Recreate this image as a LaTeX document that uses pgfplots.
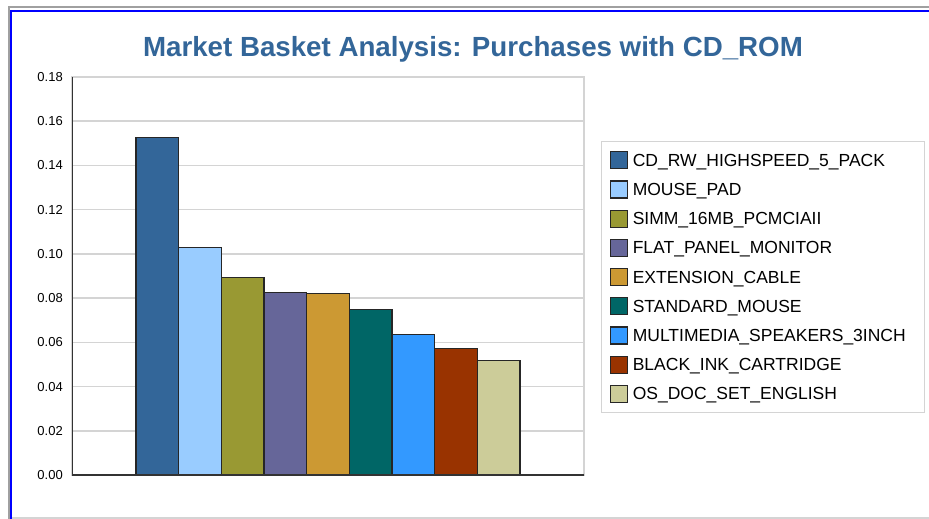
\documentclass[border=0pt]{standalone}
\usepackage{pgfplots}
\pgfplotsset{compat=1.18}
\usepackage{fontspec}
\setmainfont{Liberation Sans}

\definecolor{titleblue}{HTML}{336699}
\definecolor{gridgray}{HTML}{D4D4D4}
\definecolor{framegray}{HTML}{A0A0A0}
\definecolor{cA}{HTML}{336699}
\definecolor{cB}{HTML}{99CCFF}
\definecolor{cC}{HTML}{999933}
\definecolor{cD}{HTML}{666699}
\definecolor{cE}{HTML}{CC9933}
\definecolor{cF}{HTML}{006666}
\definecolor{cG}{HTML}{3399FF}
\definecolor{cH}{HTML}{993300}
\definecolor{cI}{HTML}{CCCC99}

\begin{document}
\begin{tikzpicture}[x=1pt,y=1pt]
\path[use as bounding box, fill=white] (0,0) rectangle (929,-519);

% window frame
\draw[framegray, line width=2pt] (8,-7) -- (929,-7);
\draw[framegray, line width=2pt] (9,-7) -- (9,-519);
\draw[blue, line width=2pt] (10,-11) -- (929,-11);
\draw[blue, line width=2pt] (11,-11) -- (11,-519);
\draw[gridgray, line width=2pt] (12,-517.5) -- (929,-517.5);

% title
\node[anchor=base, text=titleblue, font=\fontsize{27.7}{32}\selectfont\bfseries]
  at (473,-56.5) {Market Basket Analysis: Purchases with CD\_ROM};

\begin{axis}[
  at={(72pt,-475pt)}, anchor=south west,
  width=512pt, height=398pt, scale only axis,
  xmin=-1, xmax=11, ymin=0, ymax=0.18,
  xtick=\empty,
  ytick={0,0.02,0.04,0.06,0.08,0.10,0.12,0.14,0.16,0.18},
  y tick label style={/pgf/number format/fixed,
    /pgf/number format/fixed zerofill,
    /pgf/number format/precision=2,
    /pgf/number format/assume math mode=true,
    font=\fontsize{13}{15}\selectfont, inner sep=0pt, xshift=-9pt},
  major tick length=0pt,
  ymajorgrids,
  major grid style={draw=gridgray, line width=1.5pt},
  axis line style={draw=gridgray, line width=1.5pt},
  ybar, bar width=1, bar shift=0pt,
  every axis plot/.append style={draw=black!85, line width=1.2pt},
  legend cell align=left,
  legend image code/.code={%
    \draw[#1, draw=black!85, line width=1.2pt] (0pt,-8.5pt) rectangle (17pt,8.5pt);},
  legend style={at={(1.0332,0.8392)}, anchor=north west,
    draw=gridgray, line width=1.2pt,
    inner xsep=8pt, inner ysep=4pt, row sep=0pt, column sep=5pt,
    nodes={font=\fontsize{17.5}{20}\selectfont, inner sep=0pt,
      minimum height=29.2pt, text width=284pt, align=left, text depth=0pt}},
]
\addplot[fill=cA] coordinates {(1,0.1528)};
\addlegendentry{CD\_RW\_HIGHSPEED\_5\_PACK}
\addplot[fill=cB] coordinates {(2,0.1030)};
\addlegendentry{MOUSE\_PAD}
\addplot[fill=cC] coordinates {(3,0.0892)};
\addlegendentry{SIMM\_16MB\_PCMCIAII}
\addplot[fill=cD] coordinates {(4,0.0827)};
\addlegendentry{FLAT\_PANEL\_MONITOR}
\addplot[fill=cE] coordinates {(5,0.0820)};
\addlegendentry{EXTENSION\_CABLE}
\addplot[fill=cF] coordinates {(6,0.0750)};
\addlegendentry{STANDARD\_MOUSE}
\addplot[fill=cG] coordinates {(7,0.0634)};
\addlegendentry{MULTIMEDIA\_SPEAKERS\_3INCH}
\addplot[fill=cH] coordinates {(8,0.0571)};
\addlegendentry{BLACK\_INK\_CARTRIDGE}
\addplot[fill=cI] coordinates {(9,0.0518)};
\addlegendentry{OS\_DOC\_SET\_ENGLISH}

% dark left and bottom axis lines
\draw[black!80, line width=1.5pt] (rel axis cs:0,1) -- (rel axis cs:0,0) -- (rel axis cs:1,0);
\end{axis}
\end{tikzpicture}
\end{document}
